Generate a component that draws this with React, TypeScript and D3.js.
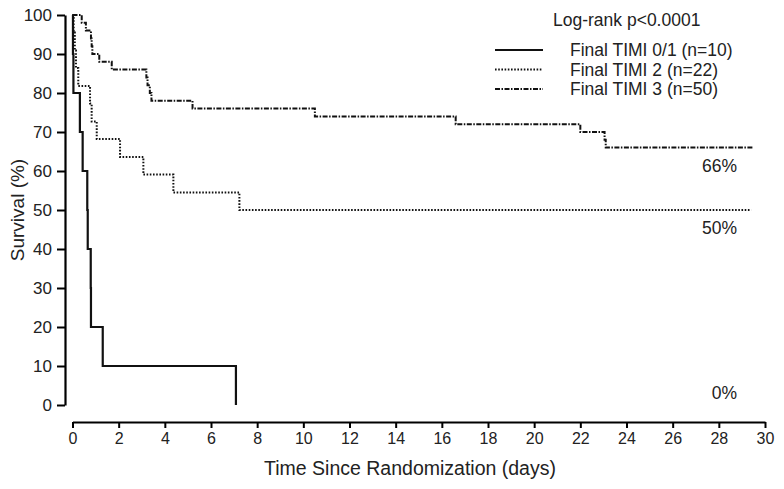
import React, { useEffect, useRef } from "react";
import * as d3 from "d3";

// Kaplan-Meier curves (days, % surviving)
const timi01Times = [0, 0.02, 0.04, 0.32, 0.44, 0.64, 0.66, 0.79, 0.8, 1.31, 7.08];
const timi01Surv = [100, 90, 80, 70, 60, 50, 40, 30, 20, 10, 0];

const timi2Times = [0, 0.05, 0.1, 0.15, 0.25, 0.76, 0.83, 1.05, 2.06, 3.07, 4.37, 7.23, 29.4];
const timi2Surv = [100, 95.5, 90.9, 86.4, 81.8, 77.3, 72.7, 68.2, 63.6, 59.1, 54.5, 50, 50];

const timi3Times = [0, 0.4, 0.58, 0.8, 0.83, 0.86, 1.16, 1.7, 3.2, 3.25, 3.35, 3.42, 5.2, 10.5, 16.6, 22.0, 23.05, 23.1, 29.5];
const timi3Surv = [100, 98, 96, 94, 92, 90, 88, 86, 84, 82, 80, 78, 76, 74, 72, 70, 68, 66, 66];

const seriesNames = ["Final TIMI 0/1 (n=10)", "Final TIMI 2 (n=22)", "Final TIMI 3 (n=50)"];
const endLabels = ["0%", "50%", "66%"];
const xTicks = d3.range(0, 31, 2);
const yTicks = d3.range(0, 101, 10);

const FONT = "'Liberation Sans', Arial, sans-serif";

export default function App() {
  const ref = useRef<SVGSVGElement>(null);

  useEffect(() => {
    const svg = d3.select(ref.current);
    svg.selectAll("*").remove();

    const x = d3.scaleLinear().domain([0, 30]).range([72.5, 765]);
    const y = d3.scaleLinear().domain([0, 100]).range([405, 15]);

    const styles = [
      { dash: null, width: 2.2 },
      { dash: "1.6 1.6", width: 2 },
      { dash: "5 1.5 1.5 1.5", width: 2 },
    ];

    const series = [
      timi01Times.map((t, i) => [t, timi01Surv[i]]),
      timi2Times.map((t, i) => [t, timi2Surv[i]]),
      timi3Times.map((t, i) => [t, timi3Surv[i]]),
    ];

    // y axis
    const yAxis = svg
      .append("g")
      .attr("transform", "translate(65,0)")
      .call(d3.axisLeft(y).tickValues(yTicks).tickSize(8).tickSizeOuter(0).tickPadding(5));
    yAxis.select(".domain").attr("stroke-width", 2.2);
    yAxis.selectAll(".tick line").attr("stroke-width", 2);
    yAxis.selectAll("text").style("font-family", FONT).style("font-size", "17px").attr("fill", "#222");

    // x axis
    const xAxis = svg
      .append("g")
      .attr("transform", "translate(0,422)")
      .call(d3.axisBottom(x).tickValues(xTicks).tickSize(6).tickSizeOuter(0).tickPadding(5));
    xAxis.select(".domain").attr("stroke-width", 2.2);
    xAxis.selectAll(".tick line").attr("stroke-width", 2);
    xAxis.selectAll("text").style("font-family", FONT).style("font-size", "16px").attr("fill", "#222");

    svg
      .append("text")
      .attr("x", 410)
      .attr("y", 475)
      .attr("text-anchor", "middle")
      .style("font-family", FONT)
      .style("font-size", "19.5px")
      .attr("fill", "#222")
      .text("Time Since Randomization (days)");

    svg
      .append("text")
      .attr("transform", "translate(24,210) rotate(-90)")
      .attr("text-anchor", "middle")
      .style("font-family", FONT)
      .style("font-size", "19px")
      .attr("fill", "#222")
      .text("Survival (%)");

    const line = d3
      .line<number[]>()
      .x((d) => x(d[0]))
      .y((d) => y(d[1]))
      .curve(d3.curveStepAfter);

    series.forEach((s, i) => {
      svg
        .append("path")
        .datum(s)
        .attr("d", line)
        .attr("fill", "none")
        .attr("stroke", "#111")
        .attr("stroke-width", styles[i].width)
        .attr("stroke-dasharray", styles[i].dash);
    });

    // end-of-curve percentages
    const lastSurv = [timi01Surv, timi2Surv, timi3Surv].map((a) => a[a.length - 1]);
    endLabels.forEach((lab, i) => {
      svg
        .append("text")
        .attr("x", 737)
        .attr("y", y(lastSurv[i]) + (i === 0 ? -6 : 24))
        .attr("text-anchor", "end")
        .style("font-family", FONT)
        .style("font-size", "17.5px")
        .attr("fill", "#222")
        .text(lab);
    });

    // legend
    svg
      .append("text")
      .attr("x", 553)
      .attr("y", 26)
      .style("font-family", FONT)
      .style("font-size", "17.5px")
      .attr("fill", "#222")
      .text("Log-rank p<0.0001");

    seriesNames.forEach((name, i) => {
      const ly = 50 + i * 19.5;
      svg
        .append("line")
        .attr("x1", 495)
        .attr("x2", 543)
        .attr("y1", ly)
        .attr("y2", ly)
        .attr("stroke", "#111")
        .attr("stroke-width", styles[i].width)
        .attr("stroke-dasharray", styles[i].dash);
      svg
        .append("text")
        .attr("x", 570)
        .attr("y", ly + 6)
        .style("font-family", FONT)
        .style("font-size", "17.5px")
        .attr("fill", "#222")
        .text(name);
    });
  }, []);

  return (
    <svg
      ref={ref}
      width={784}
      height={489}
      style={{ position: "absolute", left: 0, top: 0, background: "#fff" }}
    />
  );
}
